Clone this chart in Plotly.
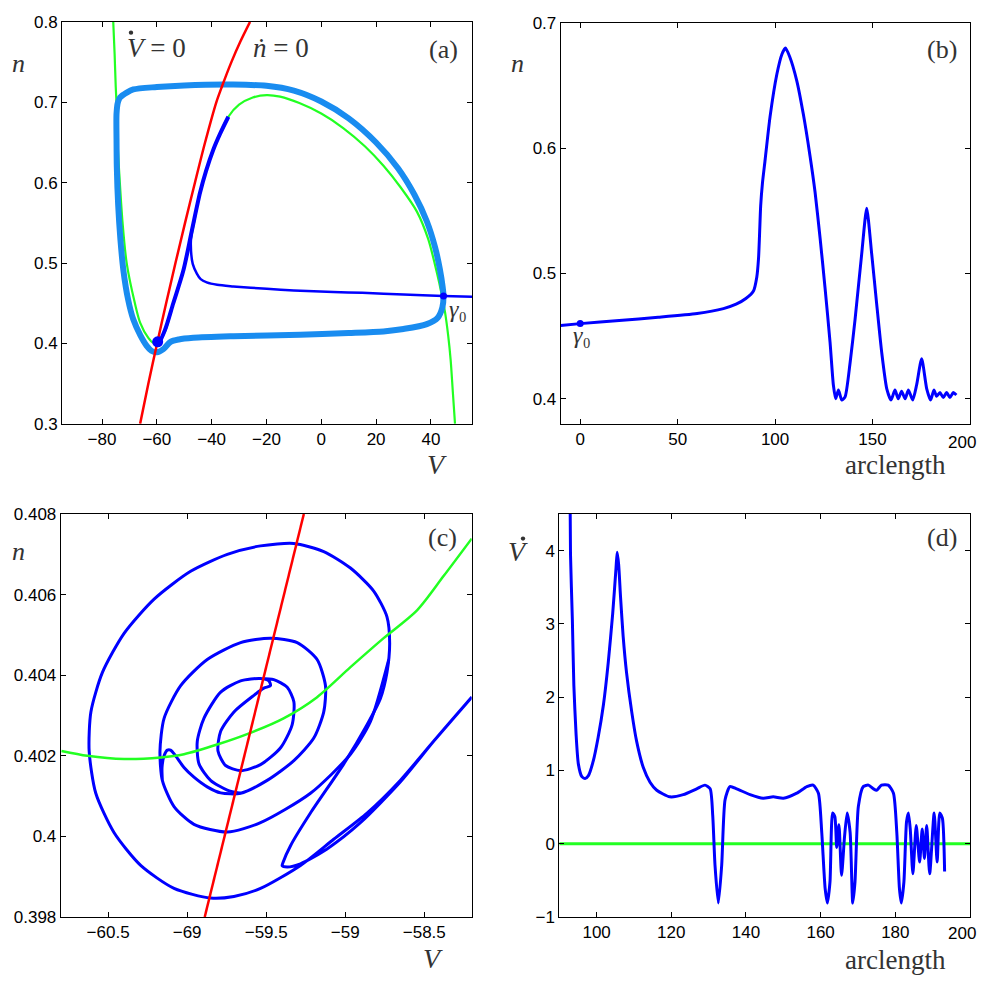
import plotly.graph_objects as go

# ---------------- Panel (a): phase plane ----------------
a_vnull_V = [-75.9, -75.4, -75.0, -74.6, -74.3, -73.5, -72.5, -71.0, -68.0, -66.1, -63.1, -61.3, -60.4, -59.6,
             -57.0, -54.0, -50.3, -47.0, -44.2, -39.4, -33.9, -30.0, -25.0, -19.9, -15.0, -8.0, 0.0, 8.0, 16.0,
             22.7, 29.0, 34.9, 39.0, 42.2, 44.0, 45.2, 46.3, 47.2, 48.0, 48.8]
a_vnull_n = [0.80, 0.76, 0.72, 0.69, 0.65, 0.60, 0.55, 0.50, 0.45, 0.426, 0.407, 0.401, 0.4019, 0.4026,
             0.415, 0.45, 0.491, 0.54, 0.588, 0.641, 0.682, 0.697, 0.706, 0.709, 0.707, 0.699, 0.686, 0.668, 0.645,
             0.621, 0.594, 0.564, 0.530, 0.488, 0.460, 0.438, 0.410, 0.380, 0.340, 0.300]

a_nnull_V = [-66.1, -63.1, -59.9, -56.6, -53.2, -49.7, -46.1, -42.4, -38.3, -36.2, -32.8, -29.6, -26.0]
a_nnull_n = [0.30, 0.35, 0.40, 0.45, 0.50, 0.55, 0.60, 0.65, 0.70, 0.72, 0.75, 0.775, 0.80]

a_cycle_V = [44.6, 44.2, 42.5, 38.5, 30.0, 22.7, 10.0, -7.7, -32.0, -46.7, -52.0, -55.0, -57.6, -60.0, -62.0,
             -63.7, -66.0, -68.6, -70.5, -72.2, -73.3, -74.1, -74.6, -74.7, -74.7, -74.2, -73.4, -71.0, -68.6,
             -60.0, -50.0, -32.1, -20.0, -10.0, 0.0, 10.0, 20.0, 28.0, 34.0, 38.5, 41.5, 43.3, 44.3, 44.6]
a_cycle_n = [0.459, 0.445, 0.432, 0.424, 0.418, 0.415, 0.413, 0.411, 0.409, 0.407, 0.405, 0.402, 0.393, 0.389,
             0.391, 0.397, 0.410, 0.430, 0.455, 0.491, 0.530, 0.572, 0.620, 0.653, 0.686, 0.700, 0.706, 0.712,
             0.716, 0.719, 0.721, 0.722, 0.7205, 0.7145, 0.701, 0.680, 0.650, 0.618, 0.585, 0.552, 0.520, 0.492,
             0.470, 0.459]

a_traj_V = [55.0, 44.6, 30.0, 15.0, 4.4, -10.0, -19.9, -32.1, -38.0, -41.8, -44.0, -45.4, -46.9, -47.6, -47.3]
a_traj_n = [0.458, 0.459, 0.461, 0.463, 0.464, 0.466, 0.468, 0.471, 0.473, 0.476, 0.480, 0.487, 0.499, 0.523, 0.539]

a_mid_V = [-33.9, -36.9, -39.4, -42.0, -44.2, -47.3, -50.3, -54.0, -57.0, -59.1, -59.7]
a_mid_n = [0.682, 0.661, 0.641, 0.615, 0.588, 0.539, 0.491, 0.450, 0.417, 0.402, 0.402]

a_eq_V, a_eq_n = [-59.7], [0.402]
a_g0_V, a_g0_n = [44.6], [0.459]

a_xticks = [-80, -60, -40, -20, 0, 20, 40]
a_xtext = ["\u221280", "\u221260", "\u221240", "\u221220", "0", "20", "40"]
a_yticks = [0.3, 0.4, 0.5, 0.6, 0.7, 0.8]
a_ytext = ["0.3", "0.4", "0.5", "0.6", "0.7", "0.8"]

# ---------------- Panel (b): n vs arclength ----------------
b_arc = [-10, 0, 20, 40, 60, 73.5, 80, 85, 88.9, 90.6, 91.5, 92.0, 92.6, 93.5, 94.9, 97.4, 100.9, 103.5, 105.3,
         107.5, 111.1, 114.5, 117.9, 120.5, 123.1, 125.6, 128.2, 129.9, 131.1, 132.5, 134.2, 135.9, 138.5, 141.0,
         144.4, 147.0, 149.6, 152.1, 154.7, 157.3, 159.5, 161.5, 163.2, 164.9, 166.7, 168.4, 170.6, 172.6, 175.2,
         177.8, 179.8, 181.5, 182.9, 184.6, 186.3, 188.0, 189.7, 191.4, 193.0]
b_n = [0.4585, 0.460, 0.4625, 0.465, 0.468, 0.472, 0.4755, 0.480, 0.486, 0.497, 0.512, 0.530, 0.554, 0.572,
       0.591, 0.625, 0.659, 0.675, 0.680, 0.673, 0.654, 0.627, 0.594, 0.565, 0.528, 0.489, 0.445, 0.411, 0.400,
       0.407, 0.399, 0.4015, 0.429, 0.463, 0.515, 0.552, 0.515, 0.476, 0.437, 0.408, 0.399, 0.407, 0.400, 0.406,
       0.400, 0.407, 0.399, 0.411, 0.432, 0.408, 0.399, 0.407, 0.402, 0.405, 0.401, 0.405, 0.401, 0.405, 0.403]
b_g0_arc, b_g0_n = [0], [0.460]
b_xticks = [0, 50, 100, 150, 200]
b_xtext = ["0", "50", "100", "150", ""]   # the last label is drawn separately so it is not clipped
b_yticks = [0.4, 0.5, 0.6, 0.7]

# ---------------- Panel (c): zoom near equilibrium ----------------
c_vnull_V = [-60.795, -60.631, -60.399, -60.167, -60.02, -59.81, -59.6, -59.39, -59.18, -58.967, -58.757,
             -58.546, -58.378, -58.2]
c_vnull_n = [0.40212, 0.40200, 0.40192, 0.40196, 0.40204, 0.40228, 0.40257, 0.40293, 0.40345, 0.40420, 0.40492,
             0.40561, 0.40646, 0.40739]
c_nnull_V = [-59.889, -59.262]
c_nnull_n = [0.398, 0.408]

# outer loop + narrow excursion
c_s1_V = [-58.199, -58.441, -58.652, -58.862, -59.073, -59.283, -59.536, -59.704, -59.852, -60.083, -60.294,
          -60.462, -60.578, -60.62, -60.609, -60.536, -60.399, -60.209, -59.978, -59.746, -59.536, -59.325,
          -59.136, -58.967, -58.82, -58.736, -58.719, -58.736, -58.778, -58.862, -59.009, -59.22, -59.346,
          -59.393, -59.399, -59.367, -59.283, -59.115, -58.904, -58.652, -58.441, -58.199]
c_s1_n = [0.40346, 0.40236, 0.40139, 0.40058, 0.39993, 0.39928, 0.39871, 0.39851, 0.39847, 0.39871, 0.39928,
          0.40009, 0.40107, 0.40212, 0.40309, 0.40407, 0.40504, 0.40589, 0.40658, 0.40700, 0.40721, 0.40727,
          0.40707, 0.40666, 0.40609, 0.40545, 0.40480, 0.40407, 0.40342, 0.40277, 0.40180, 0.40058, 0.39977,
          0.39936, 0.39927, 0.39924, 0.39932, 0.39969, 0.40034, 0.40135, 0.40236, 0.40346]
# second loop with the small bump
c_s2_V = [-58.725, -58.841, -58.967, -59.22, -59.536, -59.746, -59.957, -60.083, -60.157, -60.172, -60.146,
          -60.041, -59.873, -59.662, -59.473, -59.304, -59.178, -59.125, -59.136, -59.199, -59.325, -59.494,
          -59.662, -59.788, -59.873, -59.957, -60.02, -60.073, -60.105, -60.125, -60.146, -60.159, -60.157]
c_s2_n = [0.40439, 0.40285, 0.40204, 0.40107, 0.40034, 0.40011, 0.40030, 0.40074, 0.40139, 0.40212, 0.40293,
          0.40374, 0.40439, 0.40481, 0.40492, 0.40481, 0.40439, 0.40374, 0.40309, 0.40244, 0.40188, 0.40139,
          0.40107, 0.40108, 0.40123, 0.40147, 0.40171, 0.40200, 0.40214, 0.40214, 0.40200, 0.40171, 0.40139]
# inner loops with the hook
c_s3_V = [-59.662, -59.746, -59.852, -59.925, -59.936, -59.894, -59.788, -59.662, -59.536, -59.483, -59.473,
          -59.515, -59.578, -59.704, -59.788, -59.805, -59.757, -59.662, -59.536, -59.409, -59.336, -59.325,
          -59.367, -59.452, -59.536]
c_s3_n = [0.40107, 0.40115, 0.40139, 0.40180, 0.40236, 0.40293, 0.40358, 0.40386, 0.40392, 0.40386, 0.40374,
          0.40368, 0.40350, 0.40309, 0.40261, 0.40212, 0.40176, 0.40163, 0.40178, 0.40220, 0.40277, 0.40334,
          0.40370, 0.40389, 0.40392]

c_xticks = [-60.5, -60.0, -59.5, -59.0, -58.5]
c_xtext = ["\u221260.5", "\u221269", "\u221259.5", "\u221259", "\u221258.5"]
c_yticks = [0.398, 0.400, 0.402, 0.404, 0.406, 0.408]
c_ytext = ["0.398", "0.4", "0.402", "0.404", "0.406", "0.408"]

# ---------------- Panel (d): dV/dt vs arclength ----------------
d_arc = [92.85, 93.0, 93.5, 93.9, 94.5, 95.1, 96.0, 96.9, 97.8, 99.1, 100.4, 101.8, 103.1, 104.3, 105.2, 105.5,
         105.9, 106.4, 107.1, 108.0, 109.4, 110.7, 112.5, 114.3, 116.1, 119.6, 123.2, 126.8, 129.0, 130.4, 131.1,
         131.7, 132.6, 133.5, 134.4, 135.7, 137.5, 141.1, 144.6, 147.3, 150.0, 153.6, 156.3, 158.0, 159.4, 160.3,
         161.2, 161.8, 162.5, 163.2, 163.8, 164.3, 164.9, 165.6, 166.4, 167.1, 167.9, 168.6, 169.2, 170.1, 171.4,
         172.8, 174.1, 175.0, 176.3, 178.1, 179.5, 180.4, 181.1, 181.6, 182.3, 183.0, 183.5, 184.0, 184.7, 185.6,
         186.5, 187.2, 187.8, 188.4, 189.2, 190.4, 191.2, 191.9, 192.6, 193.2]
d_vdot = [5.0, 3.95, 3.05, 2.16, 1.49, 1.09, 0.92, 0.89, 0.93, 1.13, 1.45, 1.89, 2.47, 3.14, 3.77, 3.98,
          3.81, 3.37, 2.83, 2.34, 1.80, 1.40, 1.04, 0.84, 0.73, 0.64, 0.67, 0.75, 0.80, 0.75, 0.38,
          -0.29, -0.81, -0.29, 0.60, 0.78, 0.75, 0.67, 0.62, 0.64, 0.62, 0.69, 0.78, 0.80, 0.69, 0.15,
          -0.61, -0.81, -0.52, 0.42, 0.37, -0.05, 0.26, -0.43, 0.10, 0.42, 0.15, -0.81, -0.52, 0.51, 0.78,
          0.80, 0.75, 0.73, 0.80, 0.80, 0.69, 0.15, -0.61, -0.81, -0.52, 0.30, 0.42, 0.20, -0.41, 0.25,
          -0.25, 0.20, -0.20, 0.25, -0.41, 0.42, -0.25, 0.42, 0.35, -0.38]
d_zero_arc = [90, 200]
d_zero_v = [0, 0]
d_xticks = [100, 120, 140, 160, 180, 200]
d_xtext = ["100", "120", "140", "160", "180", ""]   # last label drawn separately
d_yticks = [-1, 0, 1, 2, 3, 4]
d_ytext = ["\u22121", "0", "1", "2", "3", "4"]
last_xlabel = "200"

# ---------------- styling ----------------
BLUE = "#0000FF"
LBLUE = "rgb(25,140,240)"
RED = "#FF0000"
GREEN = "#22FF22"
SERIF = "Liberation Serif"
SANS = "Liberation Sans"
TXT = "#333333"

fig = go.Figure()


def line(x, y, color, width, xa, ya, smooth=0.8):
    fig.add_trace(go.Scatter(x=x, y=y, mode="lines", xaxis=xa, yaxis=ya,
                             line=dict(color=color, width=width, shape="spline", smoothing=smooth),
                             hoverinfo="skip", showlegend=False))


def dot(x, y, size, xa, ya):
    fig.add_trace(go.Scatter(x=x, y=y, mode="markers", xaxis=xa, yaxis=ya,
                             marker=dict(color=BLUE, size=size), hoverinfo="skip", showlegend=False))


# (a)
line(a_vnull_V, a_vnull_n, GREEN, 2.2, "x", "y")
line(a_cycle_V, a_cycle_n, LBLUE, 6, "x", "y")
line(a_nnull_V, a_nnull_n, RED, 2.5, "x", "y")
line(a_traj_V, a_traj_n, BLUE, 2.5, "x", "y")
line(a_mid_V, a_mid_n, BLUE, 4, "x", "y")
dot(a_eq_V, a_eq_n, 11, "x", "y")
dot(a_g0_V, a_g0_n, 7, "x", "y")

# (b)
line(b_arc, b_n, BLUE, 3, "x2", "y2", 0.6)
dot(b_g0_arc, b_g0_n, 7, "x2", "y2")

# (c)
line(c_s1_V, c_s1_n, BLUE, 3, "x3", "y3", 0.7)
line(c_s2_V, c_s2_n, BLUE, 3, "x3", "y3", 0.7)
line(c_s3_V, c_s3_n, BLUE, 3, "x3", "y3", 0.7)
line(c_vnull_V, c_vnull_n, GREEN, 2.5, "x3", "y3")
line(c_nnull_V, c_nnull_n, RED, 2.5, "x3", "y3")

# (d)
line(d_zero_arc, d_zero_v, GREEN, 3, "x4", "y4")
line(d_arc, d_vdot, BLUE, 3, "x4", "y4", 0.6)


def axis(domain, rng, tickvals, ticktext, anchor):
    return dict(domain=domain, range=rng, tickvals=tickvals, ticktext=ticktext, anchor=anchor,
                ticks="inside", ticklen=5, tickcolor="black", tickwidth=1,
                showline=True, linecolor="black", linewidth=1, mirror="allticks",
                showgrid=False, zeroline=False,
                tickfont=dict(family=SANS, size=17, color="black"))


# the page body keeps an 8px margin on every side: size the figure so the page fits the window exactly
OFF = 8
W, H = 986 - 2 * OFF, 985 - 2 * OFF


def px(x):
    return (x - OFF) / W


def py(y):
    return 1 - (y - OFF) / H


fig.update_layout(
    width=W, height=H, autosize=False,
    margin=dict(l=0, r=0, t=0, b=0),
    paper_bgcolor="white", plot_bgcolor="white",
    xaxis=axis([px(62), px(472)], [-94.6, 55], a_xticks, a_xtext, "y"),
    yaxis=axis([py(423), py(13)], [0.3, 0.8], a_yticks, a_ytext, "x"),
    xaxis2=axis([px(560.7), px(970)], [-10, 200], b_xticks, b_xtext, "y2"),
    yaxis2=axis([py(423), py(14)], [0.38, 0.7], b_yticks, ["0.4", "0.5", "0.6", "0.7"], "x2"),
    xaxis3=axis([px(60.7), px(471.7)], [-60.8, -58.2], c_xticks, c_xtext, "y3"),
    yaxis3=axis([py(926), py(515)], [0.398, 0.408], c_yticks, c_ytext, "x3"),
    xaxis4=axis([px(559.3), px(970)], [90, 200], d_xticks, d_xtext, "y4"),
    yaxis4=axis([py(926), py(515)], [-1, 4.5], d_yticks, d_ytext, "x4"),
)


def label(text, x, y, size=22, italic=False, color=TXT, family=SERIF, xanchor="center"):
    fig.add_annotation(text=(f"<i>{text}</i>" if italic else text), x=x, y=py(y),
                       xref="paper", yref="paper", showarrow=False, xanchor=xanchor, yanchor="middle",
                       font=dict(family=family, size=size, color=color))


def accent_dot(x, y, r=2.2):
    # time-derivative dot drawn above a V
    fig.add_shape(type="circle", xref="paper", yref="paper",
                  x0=px(x - r), x1=px(x + r), y0=py(y + r), y1=py(y - r),
                  fillcolor=TXT, line=dict(width=0))


label("n", px(18), 55, 26, True)
label("V", px(437), 464, 28, True)
label("n", px(517), 55, 26, True)
label("arclength", px(895), 465, 27)
label("n", px(18), 553, 26, True)
label("V", px(433), 968, 28, True)
label("V", px(518), 553, 28, True)
accent_dot(523, 540)
label("arclength", px(895), 970, 27)
label("(a)", px(443), 41, 26)
label("(b)", px(942), 41, 26)
label("(c)", px(442), 539, 26)
label("(d)", px(942), 539, 26)
label("<i>V</i> = 0", px(156), 40, 27)
accent_dot(131, 24)
label("<i>\u1e45</i> = 0", px(281), 40, 27)
label("<i>\u03b3</i>\u2080", px(458), 306, 24)
label("<i>\u03b3</i>\u2080", px(582), 332, 24)
# last x tick labels of (b) and (d), right-aligned at the figure edge
label(last_xlabel, 1.0, 442, 17, False, "black", SANS, "right")
label(last_xlabel, 1.0, 943, 17, False, "black", SANS, "right")

fig.write_html("out.html", config={"staticPlot": True, "displayModeBar": False})
